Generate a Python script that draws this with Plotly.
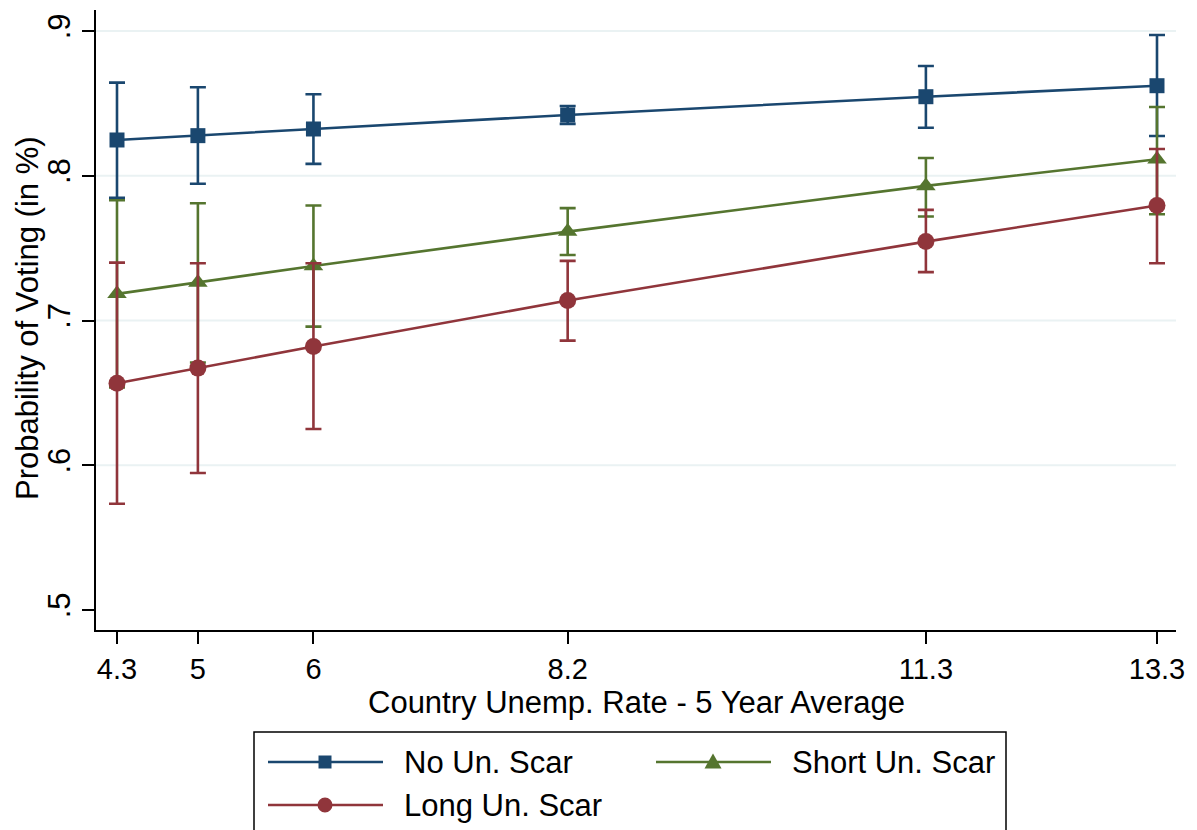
import plotly.graph_objects as go

# Country unemployment rate (5-year average) on the x axis
unemp = [4.3, 5, 6, 8.2, 11.3, 13.3]
unemp_labels = ["4.3", "5", "6", "8.2", "11.3", "13.3"]

# Predicted probability of voting with 95% confidence bounds
no_scar = [0.8247, 0.8277, 0.8323, 0.8420, 0.8546, 0.8622]
no_scar_hi = [0.8643, 0.8611, 0.8563, 0.8482, 0.8758, 0.8972]
no_scar_lo = [0.7847, 0.7945, 0.8082, 0.8358, 0.8332, 0.8275]

short_scar = [0.7184, 0.7262, 0.7377, 0.7614, 0.7930, 0.8114]
short_scar_hi = [0.7831, 0.7810, 0.7794, 0.7776, 0.8123, 0.8475]
short_scar_lo = [0.6537, 0.6710, 0.6958, 0.7453, 0.7718, 0.7734]

long_scar = [0.6567, 0.6671, 0.6820, 0.7138, 0.7545, 0.7794]
long_scar_hi = [0.7400, 0.7396, 0.7396, 0.7412, 0.7764, 0.8185]
long_scar_lo = [0.5734, 0.5946, 0.6250, 0.6861, 0.7334, 0.7396]

y_ticks = [0.5, 0.6, 0.7, 0.8, 0.9]
y_tick_labels = [".5", ".6", ".7", ".8", ".9"]
grid_ticks = [0.6, 0.7, 0.8, 0.9]

NAVY = "#1a476f"
GREEN = "#55752f"
MAROON = "#90353b"
GRID = "#eaf2f3"
FONT = "Liberation Sans, Arial, Helvetica, sans-serif"
FS = 31

W, H = 1197, 830
ML, MR, MT, MB = 96, 21, 10, 200
PW, PH = W - ML - MR, H - MT - MB


def px_x(px):
    return (px - ML) / PW


def px_y(py):
    return (H - MB - py) / PH


series = [
    ("No Un. Scar", no_scar, no_scar_hi, no_scar_lo, NAVY, "square", 15),
    ("Short Un. Scar", short_scar, short_scar_hi, short_scar_lo, GREEN, "triangle-up", 17),
    ("Long Un. Scar", long_scar, long_scar_hi, long_scar_lo, MAROON, "circle", 17),
]

fig = go.Figure()
for name, mid, hi, lo, color, symbol, size in series:
    fig.add_trace(go.Scatter(
        x=unemp, y=mid, name=name, mode="lines+markers",
        line=dict(color=color, width=2.6),
        marker=dict(symbol=symbol, size=size, color=color),
        error_y=dict(
            type="data", symmetric=False,
            array=[h - m for h, m in zip(hi, mid)],
            arrayminus=[m - l for m, l in zip(mid, lo)],
            color=color, thickness=2.6, width=8,
        ),
        showlegend=False,
    ))

shapes = []
# horizontal grid lines
for g in grid_ticks:
    shapes.append(dict(type="line", xref="paper", yref="y", x0=0, x1=1, y0=g, y1=g,
                       line=dict(color=GRID, width=2), layer="below"))

# legend frame
shapes.append(dict(type="rect", xref="paper", yref="paper",
                   x0=px_x(254), x1=px_x(1006), y0=px_y(732), y1=px_y(880),
                   line=dict(color="black", width=1.5), fillcolor="white"))

annotations = []
legend_slots = [(268, 762), (656, 762), (268, 805)]
for (name, _, _, _, color, symbol, _), (lx, ly) in zip(series, legend_slots):
    shapes.append(dict(type="line", xref="paper", yref="paper",
                       x0=px_x(lx), x1=px_x(lx + 115), y0=px_y(ly), y1=px_y(ly),
                       line=dict(color=color, width=2.6)))
    cx = lx + 57
    if symbol == "square":
        r = 6.5
        shapes.append(dict(type="rect", xref="paper", yref="paper",
                           x0=px_x(cx - r), x1=px_x(cx + r), y0=px_y(ly - r), y1=px_y(ly + r),
                           line=dict(width=0), fillcolor=color))
    elif symbol == "circle":
        r = 7.5
        shapes.append(dict(type="circle", xref="paper", yref="paper",
                           x0=px_x(cx - r), x1=px_x(cx + r), y0=px_y(ly - r), y1=px_y(ly + r),
                           line=dict(width=0), fillcolor=color))
    else:
        r = 8.5
        path = "M {:.5f},{:.5f} L {:.5f},{:.5f} L {:.5f},{:.5f} Z".format(
            px_x(cx), px_y(ly - r), px_x(cx - r), px_y(ly + r * 0.75), px_x(cx + r), px_y(ly + r * 0.75))
        shapes.append(dict(type="path", xref="paper", yref="paper", path=path,
                           line=dict(width=0), fillcolor=color))
    annotations.append(dict(text=name, xref="paper", yref="paper",
                            x=px_x(lx + 134), y=px_y(ly), xanchor="left", yanchor="middle",
                            showarrow=False, font=dict(size=FS, color="black", family=FONT)))

# axis titles
annotations.append(dict(text="Country Unemp. Rate - 5 Year Average", xref="paper", yref="paper",
                        x=px_x(636), y=px_y(702), xanchor="center", yanchor="middle",
                        showarrow=False, font=dict(size=FS, color="black", family=FONT)))
annotations.append(dict(text="Probability of Voting (in %)", xref="paper", yref="paper",
                        x=px_x(27), y=px_y(318), xanchor="center", yanchor="middle", textangle=-90,
                        showarrow=False, font=dict(size=FS, color="black", family=FONT)))

fig.update_layout(
    width=W, height=H,
    margin=dict(l=ML, r=MR, t=MT, b=MB),
    paper_bgcolor="white", plot_bgcolor="white",
    font=dict(family=FONT, size=FS, color="black"),
    shapes=shapes, annotations=annotations,
    xaxis=dict(
        range=[4.3 - 21 / 115.56, 13.3 + 19 / 115.56],
        tickvals=unemp, ticktext=unemp_labels,
        showgrid=False, zeroline=False,
        showline=True, linecolor="black", linewidth=1.5,
        ticks="outside", ticklen=12, tickwidth=1.5, tickcolor="black",
        tickfont=dict(size=29),
    ),
    yaxis=dict(
        range=[0.5 - 20 / 1448, 0.9 + 21 / 1448],
        tickvals=y_ticks, ticktext=y_tick_labels, tickangle=-90,
        showgrid=False, zeroline=False,
        showline=True, linecolor="black", linewidth=1.5,
        ticks="outside", ticklen=12, tickwidth=1.5, tickcolor="black",
        tickfont=dict(size=FS),
    ),
)

fig.write_html("out.html")
